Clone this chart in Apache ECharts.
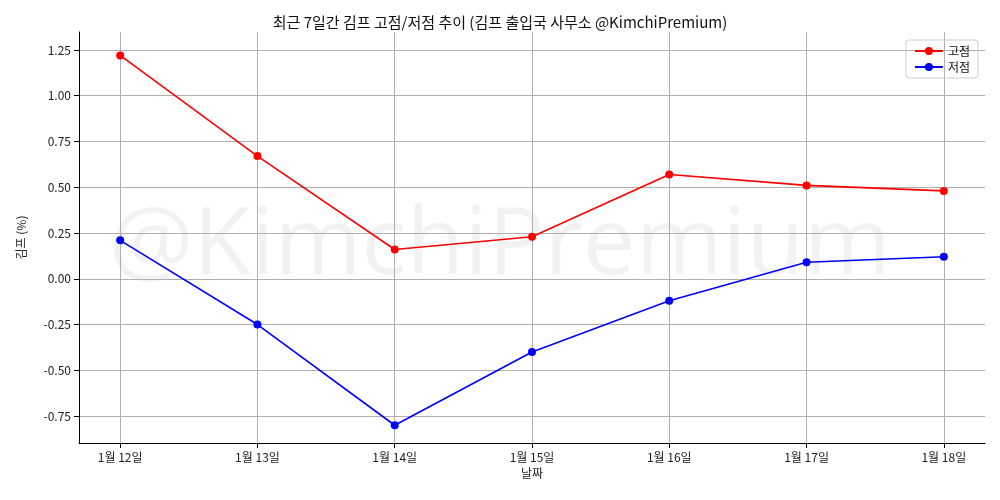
<!DOCTYPE html>
<html><head><meta charset="utf-8">
<script src="https://cdn.jsdelivr.net/npm/echarts@6/dist/echarts.min.js"></script>
<style>html,body{margin:0;background:#fff}#c{width:1000px;height:500px}</style>
</head><body><div id="c"></div>
<script>
const dates = ['1월 12일', '1월 13일', '1월 14일', '1월 15일', '1월 16일', '1월 17일', '1월 18일'];
const highs = [1.22, 0.67, 0.16, 0.23, 0.57, 0.51, 0.48];
const lows = [0.21, -0.25, -0.80, -0.40, -0.12, 0.09, 0.12];
const yTicks = [-0.75, -0.5, -0.25, 0, 0.25, 0.5, 0.75, 1.0, 1.25];
const xTicks = [0, 1, 2, 3, 4, 5, 6];
const font = 'Noto Sans CJK KR, DejaVu Sans, sans-serif';
const axisText = { color: '#222', fontSize: 12, fontFamily: font };
const gridLine = { color: '#b0b0b0', width: 1 };

const chart = echarts.init(document.getElementById('c'));
chart.setOption({
  animation: false,
  title: { text: '최근 7일간 김프 고점/저점 추이 (김프 출입국 사무소 @KimchiPremium)', left: 'center', top: 10,
    textStyle: { fontSize: 15, fontWeight: 'normal', color: '#111', fontFamily: font } },
  graphic: [{ type: 'text', left: 'center', top: 200, z: 0, silent: true,
    style: { text: '@KimchiPremium', fontSize: 94, fontFamily: 'Open Sans, DejaVu Sans, sans-serif', fill: 'rgba(0,0,0,0.05)' } }],
  legend: { right: 22, top: 40, orient: 'vertical', itemGap: 4, borderColor: '#ccc', borderWidth: 1, borderRadius: 3,
    padding: [5, 8], itemWidth: 28, itemHeight: 10, textStyle: { fontSize: 12, fontFamily: font, color: '#111' },
    data: ['고점', '저점'] },
  grid: { left: 79, right: 15, top: 32, bottom: 57 },
  xAxis: { type: 'value', min: -0.3, max: 6.3,
    name: '날짜', nameLocation: 'middle', nameGap: 22, nameTextStyle: axisText,
    axisLabel: { ...axisText, customValues: xTicks, formatter: (v) => dates[Math.round(v)] || '' },
    axisTick: { customValues: xTicks, lineStyle: { color: '#000' } },
    axisLine: { onZero: false, lineStyle: { color: '#000' } },
    splitLine: { show: true, lineStyle: gridLine } },
  yAxis: { type: 'value', min: -0.897, max: 1.348,
    name: '김프 (%)', nameLocation: 'middle', nameGap: 52, nameTextStyle: axisText,
    axisLabel: { ...axisText, customValues: yTicks, formatter: (v) => v.toFixed(2) },
    axisTick: { show: true, customValues: yTicks, lineStyle: { color: '#000' } },
    axisLine: { show: true, onZero: false, lineStyle: { color: '#000' } },
    splitLine: { lineStyle: gridLine } },
  series: [
    { name: '고점', type: 'line', data: highs.map((v, i) => [i, v]), color: '#ff0000', symbol: 'circle', symbolSize: 8,
      lineStyle: { width: 1.6 }, z: 3 },
    { name: '저점', type: 'line', data: lows.map((v, i) => [i, v]), color: '#0000ff', symbol: 'circle', symbolSize: 8,
      lineStyle: { width: 1.6 }, z: 3 },
  ],
});
</script></body></html>
